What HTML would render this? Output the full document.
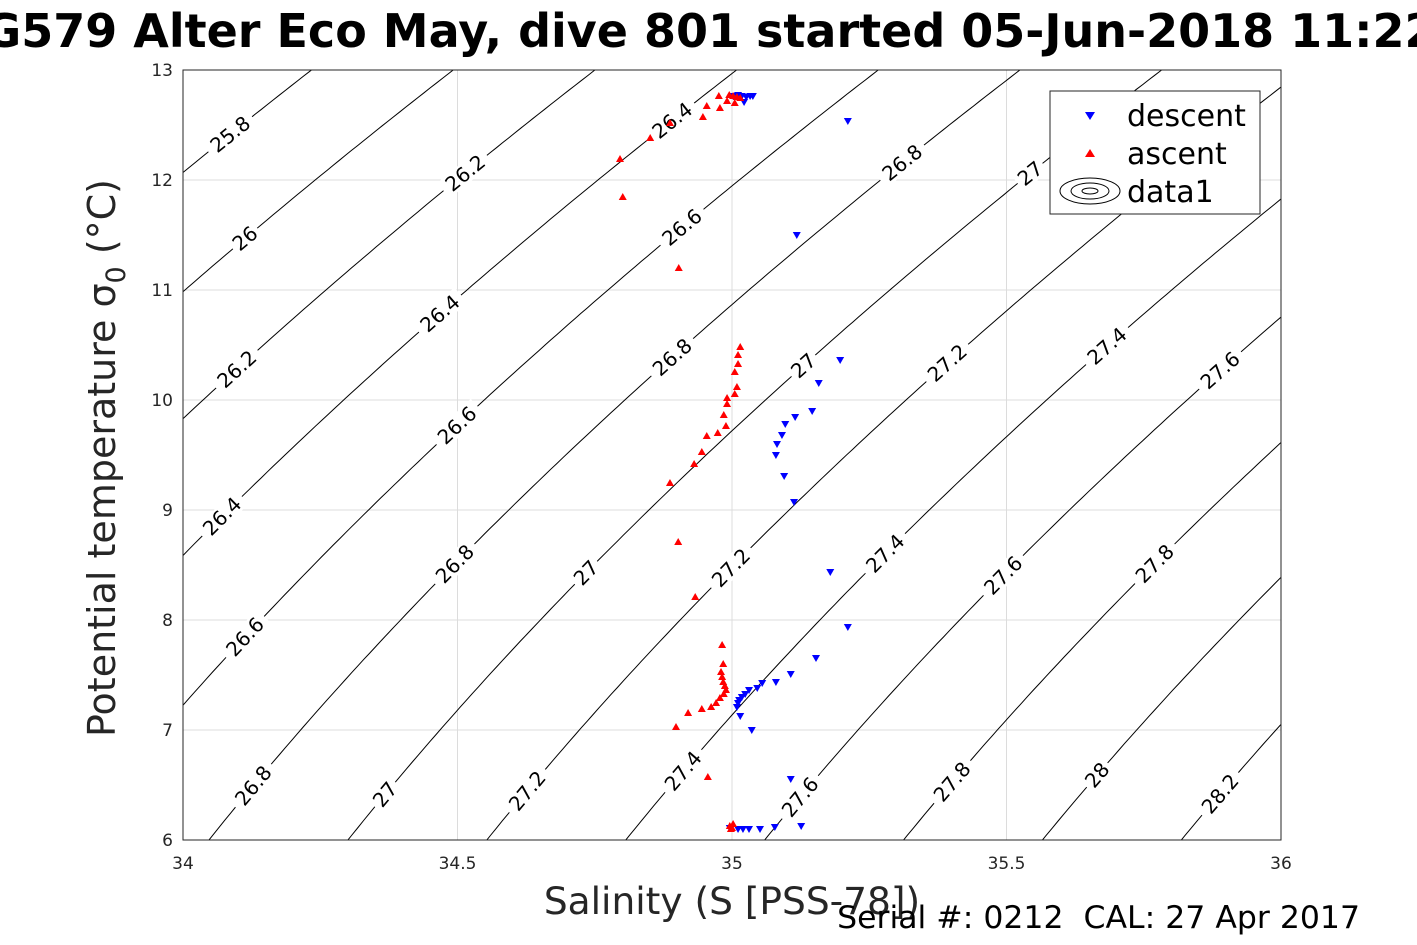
<!DOCTYPE html>
<html><head><meta charset="utf-8"><style>
html,body{margin:0;padding:0;background:#fff;width:1417px;height:945px;overflow:hidden}
svg{display:block;font-family:"DejaVu Sans","Liberation Sans",sans-serif}
</style></head><body>
<svg id="chart" width="1417" height="945" xmlns="http://www.w3.org/2000/svg">
<rect width="1417" height="945" fill="#fff"/>
<g id="grid"></g>
<g id="contours"></g>
<g id="clabels"></g>
<g id="pts"></g>
<rect x="183" y="70" width="1098" height="770" fill="none" stroke="#262626" stroke-width="1"/>
<g id="ticks" font-size="17" fill="#262626"></g>
<text x="710" y="47" text-anchor="middle" font-size="46" font-weight="bold" fill="#000">G579 Alter Eco May, dive 801 started 05-Jun-2018 11:22</text>
<text x="732" y="914" text-anchor="middle" font-size="37.5" fill="#262626">Salinity (S [PSS-78])</text>
<text transform="translate(115,458) rotate(-90)" text-anchor="middle" font-size="38" fill="#262626">Potential temperature σ<tspan font-size="27" dy="10">0</tspan><tspan dy="-10"> (°C)</tspan></text>
<text x="1360" y="928" text-anchor="end" font-size="31.5" fill="#000" style="white-space:pre" xml:space="preserve">Serial #: 0212  CAL: 27 Apr 2017</text>
<g>
<rect x="1050" y="91" width="210" height="123" fill="#fff" stroke="#262626" stroke-width="1"/>
<polygon points="1085,112 1095,112 1090,120" fill="#00f"/>
<text x="1127" y="126" font-size="30" fill="#000">descent</text>
<polygon points="1085,157 1095,157 1090,149" fill="#f00"/>
<text x="1127" y="164" font-size="30" fill="#000">ascent</text>
<g fill="none" stroke="#000" stroke-width="1">
<ellipse cx="1090" cy="191" rx="30" ry="13"/><ellipse cx="1090" cy="191" rx="19" ry="8"/><ellipse cx="1090" cy="191" rx="8" ry="3"/></g>
<text x="1127" y="202" font-size="30" fill="#000">data1</text>
</g>
</svg>
<script>
const xTicks=[34,34.5,35,35.5,36];
const xTickLabels=["34","34.5","35","35.5","36"];
const yTicks=[6,7,8,9,10,11,12,13];
const yTickLabels=["6","7","8","9","10","11","12","13"];
const levels=[25.8,26,26.2,26.4,26.6,26.8,27,27.2,27.4,27.6,27.8,28,28.2];
const labelLevels=[25.8,26.4,26.2,26,26.6,26.8,27,26.4,26.2,26.8,27,27.2,27.4,27.6,26.6,26.4,26.8,27,27.2,27.4,27.6,27.8,26.6,26.8,27,27.2,27.4,27.6,27.8,28,28.2];
const labelSal=[34.086,34.891,34.514,34.113,34.909,35.310,35.543,34.468,34.098,34.891,35.130,35.392,35.683,35.889,34.499,34.071,34.495,34.734,34.998,35.279,35.494,35.770,34.113,34.128,34.368,34.627,34.911,35.124,35.401,35.665,35.889];
const descS=[35.002,35.011,35.018,35.026,35.033,35.038,35.022,35.211,35.118,35.197,35.158,35.146,35.115,35.097,35.091,35.082,35.080,35.095,35.113,35.179,35.211,35.153,35.107,35.080,35.055,35.046,35.031,35.024,35.018,35.013,35.011,35.009,35.015,35.036,35.107,35.126,34.996,35.011,35.020,35.031,35.051,35.078];
const descT=[12.764,12.773,12.764,12.755,12.764,12.764,12.709,12.536,11.5,10.364,10.155,9.9,9.845,9.782,9.682,9.6,9.5,9.309,9.073,8.436,7.936,7.655,7.509,7.436,7.427,7.382,7.364,7.327,7.3,7.273,7.245,7.209,7.127,7.0,6.555,6.127,6.109,6.1,6.1,6.1,6.1,6.118];
const ascS=[34.976,34.995,35.002,35.009,35.015,34.991,35.005,34.954,34.978,34.947,34.887,34.851,34.796,34.801,34.903,35.015,35.011,35.011,35.005,35.009,35.005,34.991,34.991,34.985,34.989,34.974,34.954,34.945,34.931,34.887,34.902,34.933,34.982,34.984,34.980,34.982,34.984,34.987,34.989,34.985,34.978,34.971,34.962,34.945,34.920,34.898,34.956,35.002,35.000,34.996,34.998];
const ascT=[12.764,12.773,12.764,12.755,12.745,12.718,12.7,12.673,12.655,12.573,12.518,12.382,12.191,11.845,11.2,10.482,10.409,10.327,10.255,10.118,10.055,10.018,9.964,9.864,9.764,9.7,9.673,9.527,9.418,9.245,8.709,8.209,7.773,7.6,7.527,7.482,7.436,7.4,7.364,7.327,7.291,7.245,7.209,7.191,7.155,7.027,6.573,6.145,6.109,6.127,6.1];

const X0=183,X1=1281,Y0=840,Y1=70,SMIN=34,SMAX=36,TMIN=6,TMAX=13;
const xs=s=>X0+(s-SMIN)/(SMAX-SMIN)*(X1-X0);
const ys=t=>Y0-(t-TMIN)/(TMAX-TMIN)*(Y0-Y1);
const NS='http://www.w3.org/2000/svg';
function mk(tag,attrs,parent){const e=document.createElementNS(NS,tag);for(const k in attrs)e.setAttribute(k,attrs[k]);parent.appendChild(e);return e;}
function sigma0(S,T){
 const rw=999.842594+6.793952e-2*T-9.095290e-3*T*T+1.001685e-4*T**3-1.120083e-6*T**4+6.536332e-9*T**5;
 const A=0.824493-4.0899e-3*T+7.6438e-5*T*T-8.2467e-7*T**3+5.3875e-9*T**4;
 const B=-5.72466e-3+1.0227e-4*T-1.6546e-6*T*T;
 return rw+A*S+B*Math.pow(S,1.5)+4.8314e-4*S*S-1000;}
function solveT(S,lev){let lo=-2,hi=35;for(let i=0;i<60;i++){const m=(lo+hi)/2;if(sigma0(S,m)>lev)lo=m;else hi=m;}return (lo+hi)/2;}

const grid=document.getElementById('grid'),ticks=document.getElementById('ticks');
xTicks.forEach((v,i)=>{
 const l=mk('line',{x1:xs(v),x2:xs(v),y1:Y1,y2:Y0,stroke:'#dcdcdc','stroke-width':1},grid);
 
 
 const t=mk('text',{x:xs(v),y:Y0+29,'text-anchor':'middle'},ticks);t.textContent=xTickLabels[i];
 
 
});
yTicks.forEach((v,i)=>{
 const l=mk('line',{x1:X0,x2:X1,y1:ys(v),y2:ys(v),stroke:'#dcdcdc','stroke-width':1},grid);
 
 
 const t=mk('text',{x:X0-10,y:ys(v)+6,'text-anchor':'end'},ticks);t.textContent=yTickLabels[i];
 
 
});
const cg=document.getElementById('contours');
const clip=mk('clipPath',{id:'pc'},mk('defs',{},document.getElementById('chart')));
mk('rect',{x:X0,y:Y1,width:X1-X0,height:Y0-Y1},clip);
cg.setAttribute('clip-path','url(#pc)');
levels.forEach(lev=>{
 let d='';
 for(let i=0;i<=200;i++){const S=SMIN-0.1+i*(SMAX-SMIN+0.2)/200;const T=solveT(S,lev);d+=(i?'L':'M')+xs(S).toFixed(1)+','+ys(T).toFixed(1);}
 const p=mk('path',{d:d,fill:'none',stroke:'#000','stroke-width':1},cg);
 
 
});
const lg=document.getElementById('clabels');
labelLevels.forEach((lev,i)=>{
 const S=labelSal[i],T=solveT(S,lev),T2=solveT(S+0.01,lev);
 const x=xs(S),y=ys(T),ang=Math.atan2(ys(T2)-y,xs(S+0.01)-x)*180/Math.PI;
 const g=mk('g',{transform:`translate(${x.toFixed(1)},${y.toFixed(1)}) rotate(${ang.toFixed(1)})`},lg);
 
 
 const txt=String(lev);const w=txt.length*12+8;
 mk('rect',{x:-w/2,y:-10,width:w,height:20,fill:'#fff'},g);
 const t=mk('text',{x:0,y:7,'text-anchor':'middle','font-size':20,fill:'#000'},g);t.textContent=txt;
});
const pg=document.getElementById('pts');
descS.forEach((s,i)=>{const x=xs(s),y=ys(descT[i]);
 const p=mk('polygon',{points:`${x-4},${y-3} ${x+4},${y-3} ${x},${y+4}`,fill:'#00f'},pg);
 
 });
ascS.forEach((s,i)=>{const x=xs(s),y=ys(ascT[i]);
 const p=mk('polygon',{points:`${x-4},${y+3} ${x+4},${y+3} ${x},${y-4}`,fill:'#f00'},pg);
 
 });
</script>
</body></html>
